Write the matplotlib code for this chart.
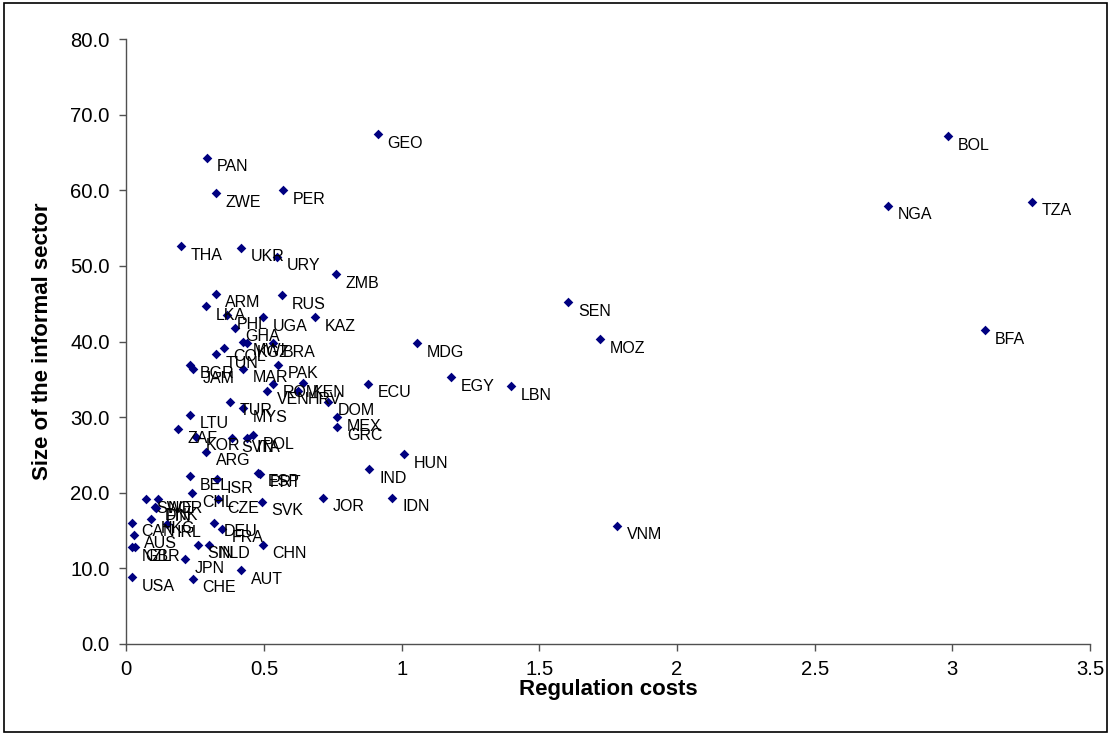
import matplotlib
matplotlib.use('Agg')
import matplotlib.pyplot as plt
from matplotlib.patches import Rectangle

plt.rcParams['font.family'] = ['Liberation Sans', 'DejaVu Sans']

# country codes, regulation costs (x), informal sector size (y)
countries = ['GEO', 'PAN', 'BOL', 'ZWE', 'PER', 'NGA', 'TZA', 'THA', 'UKR', 'URY',
             'ZMB', 'ARM', 'RUS', 'SEN', 'LKA', 'PHL', 'UGA', 'KAZ', 'GHA', 'BFA',
             'MOZ', 'MDG', 'MWI', 'KGZ', 'BRA', 'COL', 'TUN', 'BGR', 'JAM', 'MAR',
             'PAK', 'ROM', 'VEN', 'KEN', 'HRV', 'ECU', 'EGY', 'LBN', 'DOM', 'MEX',
             'GRC', 'TUR', 'MYS', 'LTU', 'ZAF', 'KOR', 'SVN', 'ITA', 'POL', 'ARG',
             'HUN', 'IND', 'ESP', 'PRT', 'BEL', 'ISR', 'CHL', 'CZE', 'SVK', 'JOR',
             'IDN', 'SWE', 'NOR', 'DNK', 'FIN', 'HKG', 'CAN', 'IRL', 'DEU', 'FRA',
             'VNM', 'AUS', 'NZL', 'GBR', 'SIN', 'NLD', 'CHN', 'JPN', 'AUT', 'USA',
             'CHE']
reg_costs = [0.914, 0.293, 2.985, 0.326, 0.569, 2.767, 3.290, 0.199, 0.417, 0.547,
             0.762, 0.324, 0.566, 1.605, 0.290, 0.367, 0.495, 0.685, 0.395, 3.118,
             1.721, 1.056, 0.425, 0.437, 0.534, 0.353, 0.326, 0.231, 0.241, 0.424,
             0.550, 0.534, 0.510, 0.643, 0.625, 0.877, 1.180, 1.398, 0.734, 0.766,
             0.766, 0.377, 0.423, 0.231, 0.187, 0.254, 0.383, 0.437, 0.461, 0.290,
             1.007, 0.883, 0.479, 0.486, 0.231, 0.328, 0.240, 0.332, 0.492, 0.713,
             0.966, 0.072, 0.116, 0.104, 0.108, 0.090, 0.020, 0.147, 0.319, 0.347,
             1.783, 0.029, 0.020, 0.032, 0.260, 0.299, 0.495, 0.212, 0.416, 0.020,
             0.241]
informal = [67.4, 64.3, 67.2, 59.6, 60.0, 58.0, 58.5, 52.6, 52.4, 51.2,
            48.9, 46.3, 46.1, 45.2, 44.7, 43.5, 43.2, 43.2, 41.8, 41.5,
            40.3, 39.8, 40.0, 39.8, 39.8, 39.2, 38.3, 36.9, 36.3, 36.4,
            36.9, 34.4, 33.5, 34.5, 33.5, 34.4, 35.3, 34.1, 32.0, 30.0,
            28.7, 32.0, 31.2, 30.3, 28.4, 27.4, 27.2, 27.2, 27.6, 25.4,
            25.1, 23.1, 22.6, 22.5, 22.2, 21.8, 19.9, 19.15, 18.8, 19.3,
            19.3, 19.15, 19.15, 18.1, 18.0, 16.5, 16.0, 15.9, 16.0, 15.2,
            15.6, 14.4, 12.8, 12.8, 13.1, 13.1, 13.1, 11.2, 9.75, 8.8,
            8.6]

fig = plt.figure(figsize=(11.11, 7.33), dpi=100)
ax = fig.add_axes([0.1137, 0.1218, 0.8674, 0.8246])

ax.scatter(reg_costs, informal, marker='D', s=24, color='#000080', linewidths=0, zorder=3)
for name, xv, yv in zip(countries, reg_costs, informal):
    ax.annotate(name, (xv, yv), xytext=(7, -6.5), textcoords='offset points',
                ha='left', va='center', fontsize=11.5, color='black')

ax.set_xlim(0, 3.5)
ax.set_ylim(0, 80)
ax.set_xticks([0, 0.5, 1, 1.5, 2, 2.5, 3, 3.5])
ax.set_xticklabels(['0', '0.5', '1', '1.5', '2', '2.5', '3', '3.5'])
ax.set_yticks(range(0, 81, 10))
ax.set_yticklabels(['%.1f' % v for v in range(0, 81, 10)])
ax.tick_params(axis='both', direction='out', length=5, width=1, color='#505050',
               labelsize=14.6, pad=7)

for side in ['top', 'right']:
    ax.spines[side].set_visible(False)
for side in ['left', 'bottom']:
    ax.spines[side].set_color('#505050')
    ax.spines[side].set_linewidth(1)

ax.set_xlabel('Regulation costs', fontsize=16, fontweight='bold', labelpad=0)
ax.set_ylabel('Size of the informal sector', fontsize=16, fontweight='bold', labelpad=12)

# outer chart frame
fig.patches.append(Rectangle((0.004, 0.002), 0.992, 0.994, transform=fig.transFigure,
                             fill=False, edgecolor='black', linewidth=1.2))

fig.savefig('out.png', dpi=100)
